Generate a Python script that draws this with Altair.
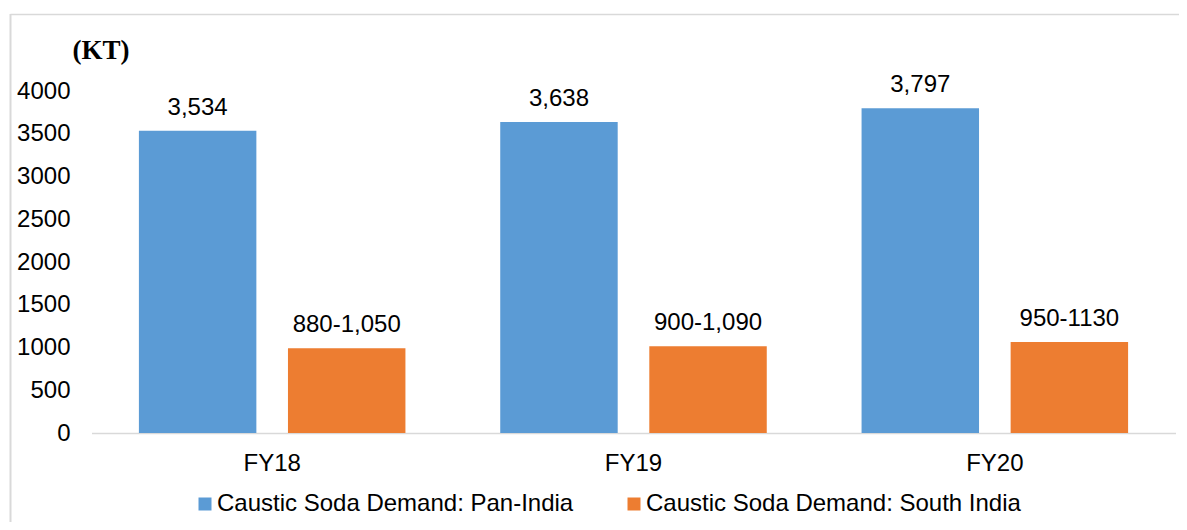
import altair as alt
import pandas as pd

years = ["FY18", "FY19", "FY20"]
series = ["Caustic Soda Demand: Pan-India", "Caustic Soda Demand: South India"]
pan_india = [3534, 3638, 3797]
south_india = [990, 1015, 1065]
pan_labels = ["3,534", "3,638", "3,797"]
south_labels = ["880-1,050", "900-1,090", "950-1130"]
colors = ["#5B9BD5", "#ED7D31"]
y_ticks = [0, 500, 1000, 1500, 2000, 2500, 3000, 3500, 4000]

rows = []
for i, yr in enumerate(years):
    rows.append({"year": yr, "series": series[0], "value": pan_india[i], "label": pan_labels[i]})
    rows.append({"year": yr, "series": series[1], "value": south_india[i], "label": south_labels[i]})
df = pd.DataFrame(rows)

FONT = "Liberation Sans"

base = alt.Chart(df).encode(
    x=alt.X(
        "year:N",
        sort=years,
        scale=alt.Scale(paddingInner=0, paddingOuter=0),
        axis=alt.Axis(
            title=None, labelAngle=0, ticks=False, labelPadding=18,
            labelFont=FONT, labelFontSize=24, labelColor="#000000",
            domainColor="#d9d9d9", domainWidth=1.5,
        ),
    ),
    xOffset=alt.XOffset("series:N", sort=series,
                        scale=alt.Scale(paddingInner=0.212, paddingOuter=0.318)),
    y=alt.Y(
        "value:Q",
        scale=alt.Scale(domain=[0, 4000], nice=False),
        axis=alt.Axis(
            title=None, values=y_ticks, format="d", ticks=False, domain=False, grid=False,
            labelPadding=21.5, labelFont=FONT, labelFontSize=24, labelColor="#000000",
        ),
    ),
)

bars = base.mark_bar().encode(
    color=alt.Color(
        "series:N",
        sort=series,
        scale=alt.Scale(domain=series, range=colors),
        legend=alt.Legend(
            title=None, orient="none", direction="horizontal",
            legendX=101.5, legendY=401, padding=0,
            symbolType="square", symbolSize=169, symbolStrokeWidth=0,
            labelFont=FONT, labelFontSize=24, labelColor="#000000",
            labelOffset=0, columnPadding=48, labelLimit=600,
        ),
    )
)

labels = base.mark_text(
    dy=-16, baseline="alphabetic", font=FONT, fontSize=24, color="#000000"
).encode(text="label:N")

border_df = pd.DataFrame({"k": [0]})
top_line = alt.Chart(border_df).mark_rule(color="#d9d9d9", strokeWidth=1.5).encode(
    x=alt.value(-81), x2=alt.value(1100), y=alt.value(-76.5)
)
left_line = alt.Chart(border_df).mark_rule(color="#d9d9d9", strokeWidth=2).encode(
    x=alt.value(-81), y=alt.value(-77), y2=alt.value(440)
)

chart = alt.layer(top_line, left_line, bars, labels).properties(
    width=1084,
    height=342,
    title=alt.Title(
        "(KT)", anchor="start", frame="group", dx=-19, dy=73, offset=0,
        baseline="alphabetic", font="Liberation Serif", fontSize=27,
        fontWeight="bold", color="#000000",
    ),
    autosize=alt.AutoSizeParams(type="none"),
    padding={"left": 83.5, "top": 83, "right": 3.5, "bottom": 89},
).configure(background="white").configure_view(strokeWidth=0, stroke="transparent")

chart.save("out.html", embed_options={"renderer": "svg", "actions": False})
